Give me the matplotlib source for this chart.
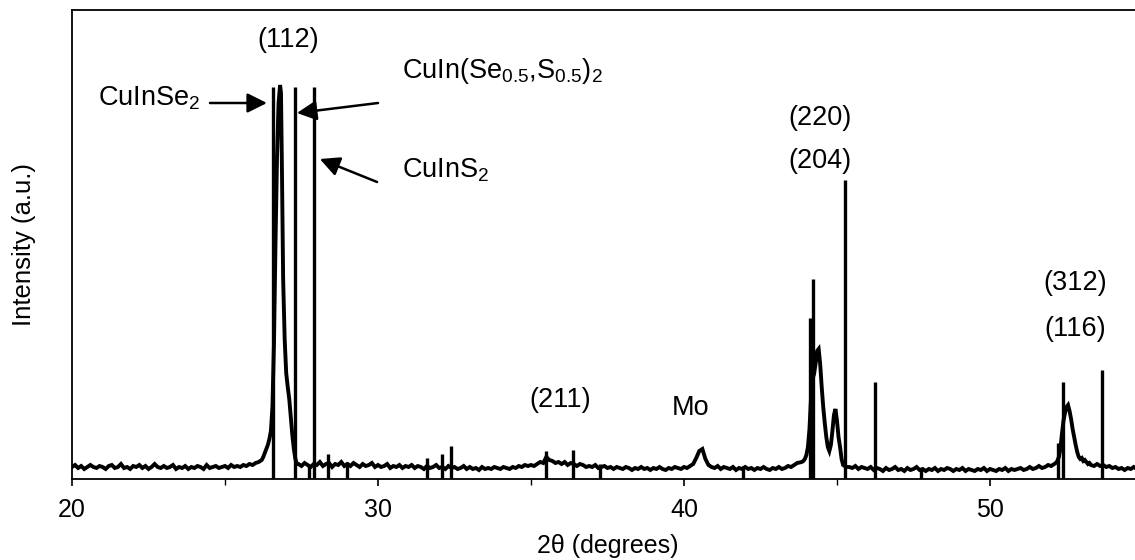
import numpy as np
import matplotlib
matplotlib.use("Agg")
import matplotlib.pyplot as plt

plt.rcParams['font.family'] = ['Liberation Sans', 'DejaVu Sans']
plt.rcParams['mathtext.fontset'] = 'custom'
plt.rcParams['mathtext.rm'] = 'Liberation Sans'
plt.rcParams['mathtext.it'] = 'Liberation Sans:italic'
plt.rcParams['mathtext.default'] = 'regular'

# measured pattern, baseline read every 0.1 deg from 20.0 (arbitrary units)
# zeros mark spots covered by the peak lists below
base_start = 20.0
base_step = 0.1
base_y = [
    12, 14, 11, 13, 10, 12, 14, 12, 11, 13,
    12, 10, 13, 14, 11, 12, 15, 11, 12, 10,
    13, 12, 14, 11, 13, 10, 12, 15, 12, 11,
    13, 11, 12, 14, 10, 12, 11, 13, 10, 12,
    11, 13, 12, 10, 14, 11, 12, 13, 11, 12,
    13, 11, 14, 12, 13, 12, 14, 13, 15, 14,
    16, 17, 19, 0, 0, 0, 0, 0, 0, 0,
    0, 0, 0, 0, 15, 13, 16, 14, 12, 15,
    14, 17, 13, 15, 16, 12, 15, 14, 17, 13,
    15, 13, 16, 14, 12, 15, 13, 14, 16, 12,
    14, 12, 13, 15, 11, 13, 12, 14, 11, 13,
    12, 14, 11, 13, 12, 10, 13, 11, 12, 14,
    11, 12, 10, 13, 11, 12, 10, 11, 13, 10,
    12, 10, 11, 9, 12, 10, 11, 10, 12, 11,
    10, 12, 11, 10, 12, 11, 13, 12, 14, 13,
    14, 13, 15, 17, 16, 22, 19, 18, 16, 17,
    15, 17, 14, 16, 15, 13, 15, 14, 12, 13,
    12, 14, 11, 12, 13, 11, 12, 10, 12, 11,
    10, 12, 11, 9, 11, 10, 12, 10, 11, 9,
    11, 10, 12, 10, 9, 11, 10, 12, 11, 10,
    12, 11, 13, 15, 21, 28, 30, 20, 14, 12,
    11, 13, 10, 12, 11, 10, 12, 9, 11, 10,
    12, 10, 11, 9, 11, 10, 12, 10, 9, 11,
    10, 12, 10, 11, 13, 12, 14, 16, 0, 0,
    0, 0, 0, 0, 0, 0, 0, 0, 0, 0,
    0, 0, 0, 0, 12, 11, 13, 10, 12, 11,
    10, 12, 9, 11, 10, 8, 11, 9, 10, 12,
    9, 10, 8, 11, 9, 10, 12, 9, 10, 8,
    10, 9, 11, 8, 10, 9, 11, 10, 8, 10,
    9, 11, 8, 10, 9, 8, 10, 9, 11, 8,
    10, 9, 8, 10, 9, 11, 8, 10, 9, 10,
    11, 9, 10, 12, 10, 11, 13, 11, 12, 14,
    13, 15, 0, 0, 0, 0, 0, 0, 0, 0,
    0, 0, 0, 0, 0, 15, 13, 14, 12, 13,
    11, 12, 10, 11, 9, 11, 10, 12, 10,
]

# peak regions read at finer spacing
p112_x = [26.25, 26.3, 26.35, 26.4, 26.45, 26.5, 26.55, 26.6, 26.65, 26.7,
          26.75, 26.8, 26.83, 26.86, 26.9, 26.95, 27.0, 27.05, 27.1, 27.15,
          27.2, 27.25, 27.3, 27.35]
p112_y = [22, 26, 30, 34, 40, 48, 72, 135, 235, 322,
          376, 394, 386, 312, 200, 140, 106, 92, 80, 62,
          44, 30, 20, 15]

p220_x = [43.85, 43.9, 43.95, 44.0, 44.05, 44.1, 44.15, 44.2, 44.25, 44.3,
          44.35, 44.4, 44.45, 44.5, 44.55, 44.6, 44.65, 44.7, 44.75, 44.8,
          44.85, 44.9, 44.95, 45.0, 45.05, 45.1, 45.15, 45.2, 45.3]
p220_y = [17, 18, 20, 24, 32, 50, 80, 100, 105, 115,
          128, 130, 115, 92, 72, 56, 42, 32, 28, 34,
          48, 64, 70, 58, 42, 32, 20, 14, 12]

p312_x = [52.15, 52.2, 52.25, 52.3, 52.35, 52.4, 52.45, 52.5, 52.55, 52.6,
          52.65, 52.7, 52.75, 52.8, 52.85, 52.9, 52.95, 53.0, 53.05, 53.1,
          53.15, 53.2, 53.25, 53.3, 53.4]
p312_y = [16, 18, 22, 30, 45, 58, 66, 72, 74, 68,
          60, 50, 42, 34, 27, 22, 20, 21, 18, 19,
          17, 15, 16, 14, 13]

# reference (JCPDS) stick lines
stick_x = [26.57, 27.29, 27.91, 27.73, 28.38, 29.0, 31.6, 32.1, 32.4, 35.48,
           36.38, 37.25, 41.93, 44.12, 44.22, 45.26, 46.25, 47.75, 52.22, 52.39,
           53.66]
stick_h = [392, 392, 392, 14, 25, 17, 21, 25, 33, 28,
           29, 15, 13, 161, 200, 299, 97, 10, 36, 97,
           109]

# merge baseline and peak regions
bx = base_start + base_step * np.arange(len(base_y))
by = np.array(base_y, dtype=float)
keep = by > 0
xs = np.concatenate([bx[keep], p112_x, p220_x, p312_x])
ys = np.concatenate([by[keep], p112_y, p220_y, p312_y])
order = np.argsort(xs)
xs, ys = xs[order], ys[order]

fig = plt.figure(figsize=(11.35, 5.6), dpi=100)
ax = fig.add_axes([72 / 1135, 81 / 560, (1143 - 72) / 1135, 469 / 560])

ax.plot(xs, ys, color='black', lw=2.8, solid_joinstyle='miter')
ax.vlines(stick_x, 0, stick_h, color='black', lw=2.4)

ax.set_xlim(20, 55)
ax.set_ylim(0, 469)
ax.set_yticks([])
ax.set_xticks([20, 30, 40, 50])
ax.set_xticks([25, 35, 45], minor=True)
ax.tick_params(axis='x', which='major', direction='out', length=5, width=1.2,
               labelsize=18, pad=9)
ax.tick_params(axis='x', which='minor', direction='out', length=4, width=1.0)
for s in ax.spines.values():
    s.set_linewidth(1.3)

ax.set_xlabel('2θ (degrees)', fontsize=18, labelpad=8)
ax.set_ylabel('Intensity (a.u.)', fontsize=18.5, labelpad=26)

fs = 19.5
ax.text(27.06, 432, '(112)', fontsize=fs, ha='center', va='baseline')
ax.text(20.85, 374, 'CuInSe$_2$', fontsize=fs, ha='left', va='baseline')
ax.text(30.78, 401, 'CuIn(Se$_{0.5}$,S$_{0.5}$)$_2$', fontsize=fs, ha='left', va='baseline')
ax.text(30.78, 301, 'CuInS$_2$', fontsize=fs, ha='left', va='baseline')
ax.text(44.44, 354, '(220)', fontsize=fs, ha='center', va='baseline')
ax.text(44.44, 311, '(204)', fontsize=fs, ha='center', va='baseline')
ax.text(52.78, 189, '(312)', fontsize=fs, ha='center', va='baseline')
ax.text(52.78, 143, '(116)', fontsize=fs, ha='center', va='baseline')
ax.text(35.95, 72, '(211)', fontsize=fs, ha='center', va='baseline')
ax.text(40.23, 64, 'Mo', fontsize=fs, ha='center', va='baseline')

arrow = dict(arrowstyle='-|>,head_length=0.7,head_width=0.35', color='black',
             lw=1.8, mutation_scale=17, shrinkA=0, shrinkB=0)
ax.annotate('', xy=(26.37, 376), xytext=(24.51, 376), arrowprops=arrow)
ax.annotate('', xy=(27.35, 366), xytext=(30.0, 376), arrowprops=arrow)
ax.annotate('', xy=(28.1, 320), xytext=(29.97, 297), arrowprops=arrow)

plt.savefig('out.png', dpi=100)
